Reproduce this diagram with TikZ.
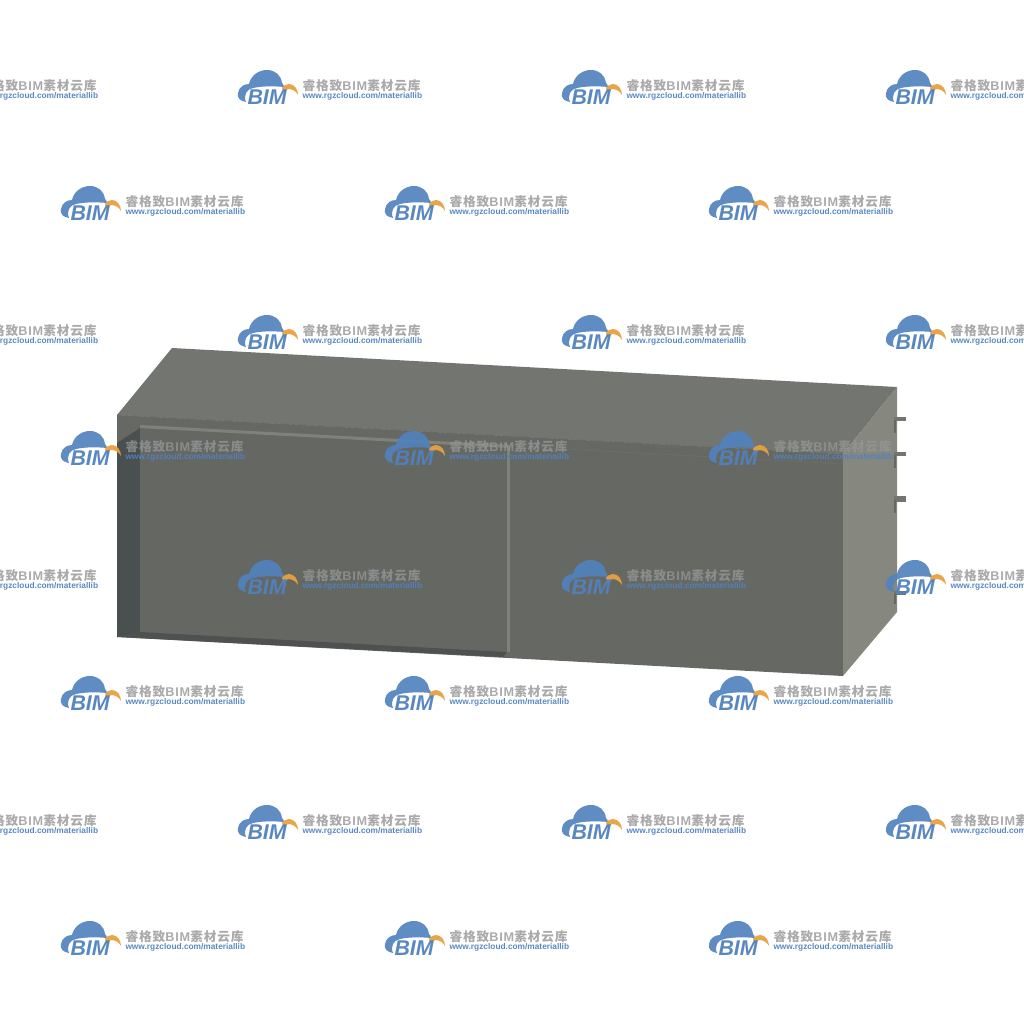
\documentclass[tikz,border=0pt]{standalone}
\usepackage{fontspec}
\setmainfont{Liberation Sans}
\newfontfamily\cjkf[LetterSpace=7]{Noto Sans CJK SC}
\newfontfamily\latf[LetterSpace=7]{Liberation Sans}
\definecolor{wmblue}{HTML}{5082BE}
\definecolor{wmorange}{HTML}{E8A040}
\definecolor{wmgrey}{HTML}{959595}
\definecolor{topface}{HTML}{737570}
\definecolor{frontface}{HTML}{666864}
\definecolor{sideface}{HTML}{868880}
\definecolor{recess}{HTML}{4A4F50}
\definecolor{edgelight}{HTML}{7F827B}
\definecolor{edgedark}{HTML}{4F5150}
\definecolor{doorface}{HTML}{656763}
\definecolor{pegface}{HTML}{737570}
\tikzset{
  wmtext/.style={anchor=west,inner sep=0pt,outer sep=0pt},
  pegarm/.style={line width=3.2pt,draw=pegface},
  pegleg/.style={line width=2.2pt,draw=frontface},
  logo/.pic={
    \fill[wmblue,opacity=.92]
      (8,32) .. controls (2,31) and (-1,28) .. (0,23)
      .. controls (1,17) and (6,14) .. (11,14)
      .. controls (13,5) and (21,0) .. (29,0)
      .. controls (37,0) and (43,5) .. (44,13)
      .. controls (45,14) and (46,15) .. (46,17)
      .. controls (36,16) and (24,16) .. (15,18)
      .. controls (9,19) and (5,25) .. (8,32) -- cycle;
    \fill[wmorange,opacity=.95]
      (44,18) .. controls (46,15) and (49,14) .. (51,14)
      .. controls (56,14) and (60,19) .. (60,25)
      .. controls (58,21) and (54,19) .. (50,19)
      .. controls (49,20) and (47,21) .. (46,23) -- cycle;
    \node[wmtext,text=wmblue,font=\bfseries\itshape\fontsize{16}{16}\selectfont,opacity=.95] (b) at (9.5,27.5) {BIM};
    \node[wmtext,text=wmgrey,font=\bfseries\fontsize{9.5}{11}\selectfont,opacity=.8] (c) at (64.5,16) {\cjkf 睿格致\latf BIM\cjkf 素材云库};
    \node[wmtext,text=wmblue,font=\bfseries\fontsize{6.25}{7}\selectfont,opacity=.95] (u) at (64.5,26) {www.rgzcloud.com/materiallib};
  }
}
\begin{document}
\begin{tikzpicture}[x=0.75pt,y=-0.75pt]
\useasboundingbox (0,0) rectangle (1024,1024);
\clip (0,0) rectangle (1024,1024);
% box
\fill[topface] (117,415) -- (172,348) -- (897,387) -- (843,454) -- cycle;
\fill[frontface] (117,415) -- (843,454) -- (843,676) -- (117,637) -- cycle;
\draw[frontface!50!topface,line width=0.5pt] (117,415) -- (843,454);
\fill[sideface] (843,454) -- (897,387) -- (897,612) -- (843,676) -- cycle;
% pegs
\draw[pegarm] (894,419) -- (906,419);
\draw[pegleg] (895,420) -- (895,433);
\draw[pegarm] (894,454) -- (906,454);
\draw[pegleg] (895,455) -- (895,468);
\draw[pegarm,line width=4.6pt] (894,499) -- (906,499);
\draw[pegleg] (895,500) -- (895,513);
\draw[pegarm] (894,593) -- (906,593);
\draw[pegleg] (895,594) -- (895,604);
% door recess
\fill[recess] (117,443) -- (140,428) -- (140,632) -- (117,637) -- cycle;
\fill[doorface] (140,428) -- (509,448) -- (509,652) -- (140,632) -- cycle;
\fill[edgelight] (140,425) -- (509,445) -- (509,448) -- (140,428) -- cycle;
\draw[frontface!75!edgelight,line width=0.6pt] (509,446) -- (843,464);
\fill[edgelight] (507,445) -- (510,445) -- (510,652) -- (507,652) -- cycle;
\fill[edgedark] (117,637) -- (140,632) -- (507,652) -- (503,657) -- cycle;
% watermarks
\foreach \yy/\xlist in {
   70/{-86,238,562,886},186/{61,385,709},
   315/{-86,238,562,886},431/{61,385,709},
   560/{-86,238,562,886},676/{61,385,709},
   805/{-86,238,562,886},921/{61,385,709}} {
  \foreach \xx in \xlist {
    \pic (w\xx-\yy) at (\xx,\yy) {logo};
  }
}
\end{tikzpicture}
\end{document}
